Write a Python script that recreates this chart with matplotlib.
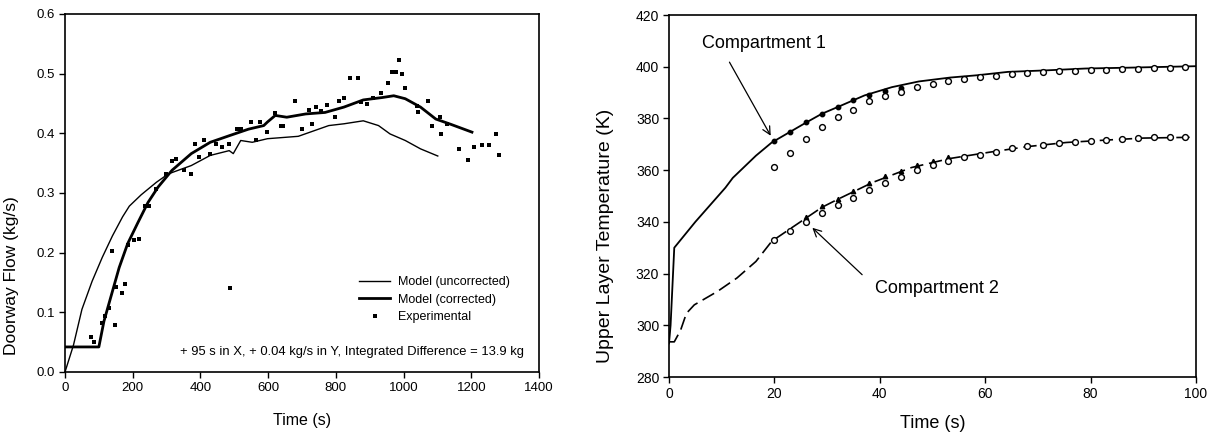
"""Two panels: doorway flow vs time (left) and upper layer temperature (right)."""
import matplotlib

matplotlib.use("Agg")
import matplotlib.pyplot as plt

plt.rcParams["font.family"] = ["Liberation Sans", "DejaVu Sans"]

INK = "#000000"

# ── Left panel data ──────────────────────────────────────────────────────
unc_t = [0, 25, 50, 80, 110, 140, 170, 190, 225, 270, 305, 373, 429, 485, 497,
         519, 553, 598, 689, 734, 779, 824, 881, 926, 960, 1005, 1050, 1101]
unc_q = [0.0, 0.045, 0.105, 0.152, 0.192, 0.228, 0.26, 0.278, 0.297, 0.318, 0.332,
         0.346, 0.363, 0.371, 0.366, 0.388, 0.385, 0.391, 0.395, 0.404, 0.413,
         0.416, 0.421, 0.413, 0.399, 0.388, 0.374, 0.362]

cor_t = [0, 100, 115, 140, 160, 185, 215, 245, 275, 316, 373, 429, 485, 542,
         587, 598, 621, 655, 711, 768, 824, 881, 937, 971, 1005, 1050, 1095, 1140, 1202]
cor_q = [0.042, 0.042, 0.085, 0.135, 0.175, 0.215, 0.25, 0.284, 0.31, 0.338,
         0.366, 0.385, 0.396, 0.407, 0.413, 0.419, 0.43, 0.427, 0.4325, 0.435,
         0.444, 0.456, 0.46, 0.463, 0.458, 0.444, 0.424, 0.415, 0.402]

exp_t = [76, 86, 108, 119, 129, 138, 148, 152, 167, 176, 186, 205, 220, 235, 248,
         269, 299, 316, 327, 350, 373, 384, 395, 412, 429, 446, 463, 486, 485,
         508, 519, 548, 565, 576, 598, 619, 638, 644, 678, 700, 720, 729, 740,
         756, 773, 796, 808, 824, 843, 864, 875, 892, 909, 932, 954, 965, 977,
         986, 994, 1005, 1039, 1044, 1073, 1084, 1107, 1112, 1129, 1163, 1191,
         1208, 1231, 1253, 1272, 1281]
exp_q = [0.059, 0.05, 0.082, 0.094, 0.108, 0.203, 0.079, 0.142, 0.132, 0.148,
         0.213, 0.222, 0.223, 0.279, 0.279, 0.306, 0.332, 0.354, 0.357, 0.338,
         0.332, 0.382, 0.36, 0.388, 0.366, 0.382, 0.377, 0.141, 0.382, 0.407,
         0.407, 0.419, 0.388, 0.419, 0.402, 0.434, 0.413, 0.413, 0.454, 0.407,
         0.439, 0.416, 0.444, 0.438, 0.448, 0.427, 0.455, 0.46, 0.493, 0.493,
         0.452, 0.449, 0.46, 0.467, 0.484, 0.502, 0.502, 0.523, 0.499, 0.476,
         0.445, 0.435, 0.455, 0.413, 0.427, 0.399, 0.416, 0.374, 0.356, 0.377,
         0.381, 0.38, 0.399, 0.363]

# ── Right panel data ─────────────────────────────────────────────────────
c1_t = [0, 0.3, 1.0, 5, 10.7, 12.1, 16.5, 19.5, 23.9, 26.1, 29, 32, 37.1, 42.3,
        47.4, 53.3, 58.5, 64.3, 71.7, 79, 86.4, 100]
c1_T = [293, 300, 330, 340, 353.2, 357, 365.6, 370.7, 375.9, 378.5, 381.8, 384.4,
        388.9, 392.1, 394.3, 395.8, 396.7, 398, 398.6, 399.3, 399.6, 400.2]

c2_t = [0, 1.0, 2.2, 3.3, 4.8, 9.2, 12.9, 16.5, 19.5, 26.1, 29, 32, 38.6, 46,
        53.3, 60.7, 68, 75.4, 82.7, 90, 98.9]
c2_T = [293.6, 293.6, 298.1, 304.6, 307.9, 313.1, 318.3, 324.7, 332.5, 341.6,
        345.6, 348.7, 355.2, 361, 364.5, 366.9, 369.1, 370.7, 371.6, 372.4, 372.7]

obs_t = [20, 23, 26, 29, 32, 35, 38, 41, 44, 47, 50, 53, 56, 59, 62, 65, 68,
         71, 74, 77, 80, 83, 86, 89, 92, 95, 98]
obs1_T = [361.4, 366.8, 372.0, 376.6, 380.5, 383.4, 386.6, 388.6, 390.4, 392.1,
          393.2, 394.3, 395.4, 396.0, 396.3, 397.1, 397.7, 398.0, 398.2, 398.5,
          398.6, 398.9, 399.0, 399.3, 399.5, 399.6, 399.9]
obs2_T = [333.1, 336.4, 340.0, 343.3, 346.4, 349.4, 352.3, 354.9, 357.5, 360.0,
          361.9, 363.6, 364.9, 366.0, 367.1, 368.4, 369.2, 369.8, 370.5, 371.0,
          371.4, 371.8, 372.1, 372.4, 372.7, 372.7, 372.9]

dot1_t = [20, 23, 26, 29, 32, 35, 38, 41, 44]
dot1_T = [371.4, 374.9, 378.5, 381.8, 384.4, 387.0, 388.9, 390.8, 391.9]
tri2_t = [26, 29, 32, 35, 38, 41, 44, 47, 50, 53]
tri2_T = [341.8, 346.1, 348.7, 351.9, 355.2, 357.8, 359.5, 362.1, 363.6, 365.2]


def _box(ax, size):
    for s in ax.spines.values():
        s.set_color(INK)
        s.set_linewidth(1.2)
    ax.tick_params(direction="out", length=4, width=1.0, colors=INK,
                   labelsize=size, pad=3)


fig = plt.figure(figsize=(12.09, 4.34), dpi=100, facecolor="white")

# Left panel
ax1 = fig.add_axes([65 / 1209, 1 - 372 / 434, 474 / 1209, 358 / 434])
ax1.plot(unc_t, unc_q, color=INK, lw=1.0, label="Model (uncorrected)")
ax1.plot(cor_t, cor_q, color=INK, lw=2.0, label="Model (corrected)")
ax1.plot(exp_t, exp_q, ls="none", marker="s", ms=2.6, mew=0, color=INK,
         label="Experimental")
ax1.set_xlim(0, 1400)
ax1.set_ylim(0, 0.6)
ax1.set_xticks(range(0, 1401, 200))
ax1.set_yticks([0.0, 0.1, 0.2, 0.3, 0.4, 0.5, 0.6])
ax1.set_yticklabels([f"{v:.1f}" for v in ax1.get_yticks()])
ax1.set_xlabel("Time (s)", fontsize=11.5, labelpad=14)
ax1.set_ylabel("Doorway Flow (kg/s)", fontsize=12.5)
ax1.yaxis.set_label_coords(-0.097, 0.27)
_box(ax1, 9.5)
ax1.legend(loc="upper left", bbox_to_anchor=(869, 0.161),
           bbox_transform=ax1.transData, frameon=False, fontsize=9,
           handlelength=2.5, handletextpad=0.6, labelspacing=0.45,
           borderpad=0, borderaxespad=0, numpoints=1, markerscale=1.0)
ax1.text(1355, 0.034,
         "+ 95 s in X, + 0.04 kg/s in Y, Integrated Difference = 13.9 kg",
         ha="right", va="center", fontsize=9.4, color=INK)

# Right panel
ax2 = fig.add_axes([669 / 1209, 1 - 377 / 434, 527 / 1209, 362 / 434])
ax2.plot(c1_t, c1_T, color=INK, lw=1.3)
l2, = ax2.plot(c2_t, c2_T, color=INK, lw=1.2)
l2.set_dashes((8, 3.5))
ax2.plot(dot1_t, dot1_T, ls="none", marker="o", ms=3.2, color=INK)
ax2.plot(tri2_t, tri2_T, ls="none", marker="^", ms=3.2, color=INK)
ax2.plot(obs_t, obs1_T, ls="none", marker="o", ms=4.2, mfc="white",
         mec=INK, mew=1.0)
ax2.plot(obs_t, obs2_T, ls="none", marker="o", ms=4.2, mfc="white",
         mec=INK, mew=1.0)
ax2.set_xlim(0, 100)
ax2.set_ylim(280, 420)
ax2.set_xticks(range(0, 101, 20))
ax2.set_yticks(range(280, 421, 20))
ax2.set_xlabel("Time (s)", fontsize=13, labelpad=10)
ax2.set_ylabel("Upper Layer Temperature (K)", fontsize=14)
ax2.yaxis.set_label_coords(-0.105, 0.39)
_box(ax2, 10)

ax2.annotate("Compartment 1", xy=(19.3, 373.3), xytext=(6.3, 409),
             fontsize=13, va="center", ha="left",
             arrowprops=dict(arrowstyle="->", color=INK, lw=0.9,
                             shrinkA=0, shrinkB=0, relpos=(0.22, -0.6),
                             mutation_scale=14))
ax2.annotate("Compartment 2", xy=(27.2, 337.7), xytext=(39, 314.3),
             fontsize=13, va="center", ha="left",
             arrowprops=dict(arrowstyle="->", color=INK, lw=0.9,
                             shrinkA=0, shrinkB=0, relpos=(-0.1, 1.3),
                             mutation_scale=14))

fig.savefig("out.png", dpi=100, facecolor="white")
